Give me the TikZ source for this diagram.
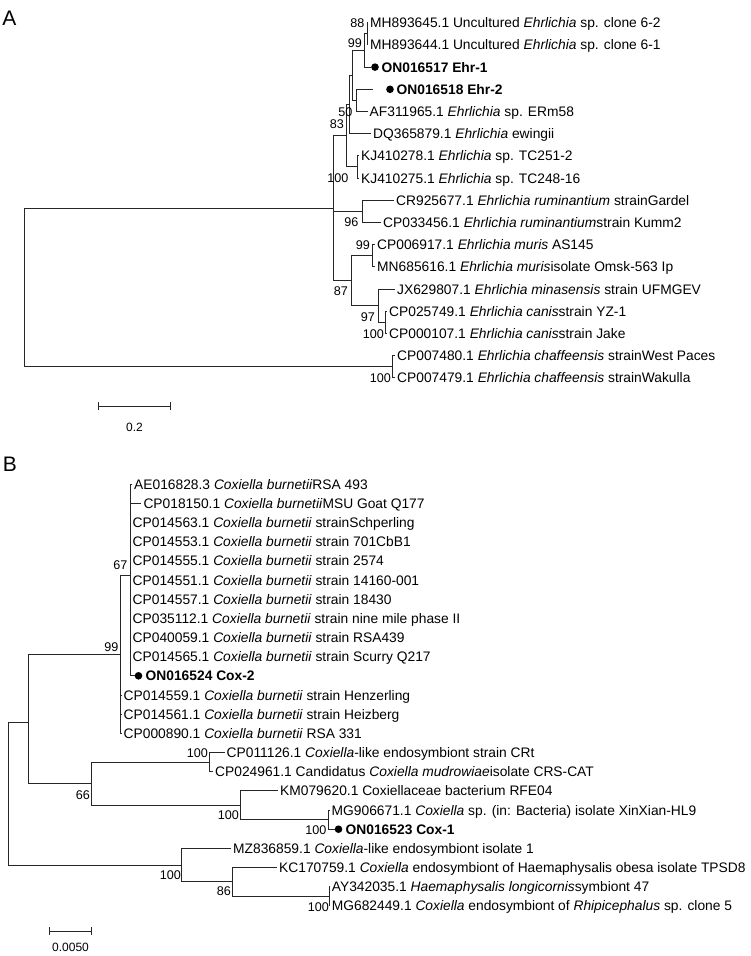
\documentclass[tikz,border=0pt]{standalone}
\usepackage{fontspec}
\setmainfont{Liberation Sans}
\begin{document}
\begin{tikzpicture}[x=1pt,y=-1pt,
  br/.style={line width=1pt, draw=black!85},
  lf/.style={anchor=west, inner xsep=2pt, inner ysep=0pt, text height=10pt, text depth=0pt, font=\fontsize{13.8}{16}\selectfont},
  lfb/.style={lf, font=\fontsize{13.8}{16}\selectfont\bfseries},
  bs/.style={anchor=east, inner sep=0pt, text height=9pt, text depth=0pt, font=\fontsize{12.6}{14}\selectfont},
  dotn/.style={circle, fill=black, inner sep=0pt, minimum size=7.6pt},
  plab/.style={inner sep=0pt, text height=15pt, text depth=0pt, font=\fontsize{21}{24}\selectfont},
  sclab/.style={inner sep=0pt, text height=8.6pt, text depth=0pt, font=\fontsize{12}{14}\selectfont}]
\useasboundingbox (0,0) rectangle (750,956);
\fill[white] (0,0) rectangle (750,956);

% ---------------- Panel A ----------------
\node[plab] (pA) at (9.5,18) {A};

\coordinate (rA) at (24,287.4);
\coordinate (nIn) at (333,208.2);
\coordinate (n83) at (346,135.7);
\coordinate (nB) at (349,104.6);
\coordinate (nA) at (352,75.4);
\coordinate (n99) at (364,50.45);
\coordinate (n88) at (367,33.8);
\coordinate (n50) at (356,100.4);
\coordinate (nKJ) at (357,166.9);
\coordinate (n96) at (362,211.3);
\coordinate (n87) at (351,280.7);
\coordinate (n99m) at (372.5,255.7);
\coordinate (n97) at (378,305.6);
\coordinate (ncan) at (385,322.3);
\coordinate (nCh) at (392,366.7);

\node[lf] (a1) at (368,22.7) {MH893645.1 Uncultured \textit{Ehrlichia} sp. clone 6-2};
\node[lf] (a2) at (368,44.9) {MH893644.1 Uncultured \textit{Ehrlichia} sp. clone 6-1};
\node[dotn] (a3d) at (375,67.1) {};
\node[lfb] (a3) at (379.5,67.1) {ON016517 Ehr-1};
\coordinate (a4e) at (372.7,89.3);
\node[dotn] (a4d) at (390,89.3) {};
\node[lfb] (a4) at (394.5,89.3) {ON016518 Ehr-2};
\node[lf] (a5) at (367.5,111.5) {AF311965.1 \textit{Ehrlichia} sp. ERm58};
\node[lf] (a6) at (371,133.7) {DQ365879.1 \textit{Ehrlichia} ewingii};
\node[lf] (a7) at (359,155.8) {KJ410278.1 \textit{Ehrlichia} sp. TC251-2};
\node[lf] (a8) at (359,178.0) {KJ410275.1 \textit{Ehrlichia} sp. TC248-16};
\node[lf] (a9) at (394,200.2) {CR925677.1 \textit{Ehrlichia ruminantium} strainGardel};
\node[lf] (a10) at (381,222.4) {CP033456.1 \textit{Ehrlichia ruminantium}strain Kumm2};
\node[lf] (a11) at (375,244.6) {CP006917.1 \textit{Ehrlichia muris} AS145};
\node[lf] (a12) at (375,266.8) {MN685616.1 \textit{Ehrlichia muris}isolate Omsk-563 Ip};
\node[lf] (a13) at (395,289.0) {JX629807.1 \textit{Ehrlichia minasensis} strain UFMGEV};
\node[lf] (a14) at (387,311.2) {CP025749.1 \textit{Ehrlichia canis}strain YZ-1};
\node[lf] (a15) at (387,333.4) {CP000107.1 \textit{Ehrlichia canis}strain Jake};
\node[lf] (a16) at (395,355.6) {CP007480.1 \textit{Ehrlichia chaffeensis} strainWest Paces};
\node[lf] (a17) at (395,377.7) {CP007479.1 \textit{Ehrlichia chaffeensis} strainWakulla};

\draw[br] (rA) |- (nIn);
\draw[br] (rA) |- (nCh);
\draw[br] (nIn) |- (n83);
\draw[br] (nIn) |- (n96);
\draw[br] (nIn) |- (n87);
\draw[br] (n83) |- (nB);
\draw[br] (n83) |- (nKJ);
\draw[br] (nB) |- (nA);
\draw[br] (nB) |- (a6.west);
\draw[br] (nA) |- (n99);
\draw[br] (nA) |- (n50);
\draw[br] (n99) |- (n88);
\draw[br] (n99) |- (a3d.west);
\draw[br] (n88) |- (a1.west);
\draw[br] (n88) |- (a2.west);
\draw[br] (n50) |- (a4e);
\draw[br] (n50) |- (a5.west);
\draw[br] (nKJ) |- (a7.west);
\draw[br] (nKJ) |- (a8.west);
\draw[br] (n96) |- (a9.west);
\draw[br] (n96) |- (a10.west);
\draw[br] (n87) |- (n99m);
\draw[br] (n87) |- (n97);
\draw[br] (n99m) |- (a11.west);
\draw[br] (n99m) |- (a12.west);
\draw[br] (n97) |- (a13.west);
\draw[br] (n97) |- (ncan);
\draw[br] (ncan) |- (a14.west);
\draw[br] (ncan) |- (a15.west);
\draw[br] (nCh) |- (a16.west);
\draw[br] (nCh) |- (a17.west);

\node[bs] (ba1) at (364.5,22.7) {88};
\node[bs] (ba2) at (362,43) {99};
\node[bs] (ba3) at (352.5,111.5) {50};
\node[bs] (ba4) at (344,124) {83};
\node[bs] (ba5) at (348.5,178) {100};
\node[bs] (ba6) at (358.5,222) {96};
\node[bs] (ba7) at (370,245) {99};
\node[bs] (ba8) at (348,291) {87};
\node[bs] (ba9) at (375,317) {97};
\node[bs] (ba10) at (384,333.5) {100};
\node[bs] (ba11) at (391,378) {100};

\coordinate (sa1) at (98.5,406);
\coordinate (sa2) at (170.5,406);
\draw[br] (sa1) -- (sa2);
\draw[br] (sa1) ++(0,-4) -- ++(0,8);
\draw[br] (sa2) ++(0,-4) -- ++(0,8);
\node[sclab] (sal) at (134.5,427) {0.2};

% ---------------- Panel B ----------------
\node[plab] (pB) at (10,464) {B};

\coordinate (rB) at (8.3,793.6);
\coordinate (nX) at (28.3,722);
\coordinate (n99b) at (120,654.5);
\coordinate (n67) at (130.5,575);
\coordinate (n66) at (91.5,783.7);
\coordinate (n100a) at (209.5,762.1);
\coordinate (n100k) at (240,805.2);
\coordinate (n100d) at (328.5,819.6);
\coordinate (n100b) at (181.7,865.2);
\coordinate (n86) at (232,881.9);
\coordinate (n100c) at (329,896.3);

\node[lf] (b1) at (132,484.1) {AE016828.3 \textit{Coxiella burnetii}RSA 493};
\node[lf] (b2) at (141.3,503.3) {CP018150.1 \textit{Coxiella burnetii}MSU Goat Q177};
\node[lf] (b3) at (130.5,522.4) {CP014563.1 \textit{Coxiella burnetii} strainSchperling};
\node[lf] (b4) at (130.5,541.6) {CP014553.1 \textit{Coxiella burnetii} strain 701CbB1};
\node[lf] (b5) at (130.5,560.8) {CP014555.1 \textit{Coxiella burnetii} strain 2574};
\node[lf] (b6) at (130.5,580.0) {CP014551.1 \textit{Coxiella burnetii} strain 14160-001};
\node[lf] (b7) at (130.5,599.1) {CP014557.1 \textit{Coxiella burnetii} strain 18430};
\node[lf] (b8) at (130.5,618.3) {CP035112.1 \textit{Coxiella burnetii} strain nine mile phase II};
\node[lf] (b9) at (130.5,637.5) {CP040059.1 \textit{Coxiella burnetii} strain RSA439};
\node[lf] (b10) at (130.5,656.6) {CP014565.1 \textit{Coxiella burnetii} strain Scurry Q217};
\node[dotn] (b11d) at (138.5,675.8) {};
\node[lfb] (b11) at (143.5,675.8) {ON016524 Cox-2};
\node[lf] (b12) at (121.5,695.0) {CP014559.1 \textit{Coxiella burnetii} strain Henzerling};
\node[lf] (b13) at (121.5,714.2) {CP014561.1 \textit{Coxiella burnetii} strain Heizberg};
\node[lf] (b14) at (121.5,733.3) {CP000890.1 \textit{Coxiella burnetii} RSA 331};
\node[lf] (b15) at (224.5,752.5) {CP011126.1 \textit{Coxiella}-like endosymbiont strain CRt};
\node[lf] (b16) at (213,771.7) {CP024961.1 Candidatus \textit{Coxiella mudrowiae}isolate CRS-CAT};
\node[lf] (b17) at (278,790.8) {KM079620.1 Coxiellaceae bacterium RFE04};
\node[lf] (b18) at (329.5,810.0) {MG906671.1 \textit{Coxiella} sp. (in: Bacteria) isolate XinXian-HL9};
\node[dotn] (b19d) at (338.5,829.2) {};
\node[lfb] (b19) at (343.5,829.2) {ON016523 Cox-1};
\node[lf] (b20) at (231,848.4) {MZ836859.1 \textit{Coxiella}-like endosymbiont isolate 1};
\node[lf] (b21) at (277,867.5) {KC170759.1 \textit{Coxiella} endosymbiont of Haemaphysalis obesa isolate TPSD8};
\node[lf] (b22) at (329.7,886.7) {AY342035.1 \textit{Haemaphysalis longicornis}symbiont 47};
\node[lf] (b23) at (329.7,905.9) {MG682449.1 \textit{Coxiella} endosymbiont of \textit{Rhipicephalus} sp. clone 5};

\draw[br] (rB) |- (nX);
\draw[br] (rB) |- (n100b);
\draw[br] (nX) |- (n99b);
\draw[br] (nX) |- (n66);
\draw[br] (n99b) |- (n67);
\foreach \k in {12,13,14} \draw[br] (n99b) |- (b\k.west);
\foreach \k in {1,...,10} \draw[br] (n67) |- (b\k.west);
\draw[br] (n67) |- (b11d.west);
\draw[br] (n66) |- (n100a);
\draw[br] (n66) |- (n100k);
\draw[br] (n100a) |- (b15.west);
\draw[br] (n100a) |- (b16.west);
\draw[br] (n100k) |- (b17.west);
\draw[br] (n100k) |- (n100d);
\draw[br] (n100d) |- (b18.west);
\draw[br] (n100d) |- (b19d.west);
\draw[br] (n100b) |- (b20.west);
\draw[br] (n100b) |- (n86);
\draw[br] (n86) |- (b21.west);
\draw[br] (n86) |- (n100c);
\draw[br] (n100c) |- (b22.west);
\draw[br] (n100c) |- (b23.west);

\node[bs] (bb1) at (127.5,565) {67};
\node[bs] (bb2) at (118.5,647) {99};
\node[bs] (bb3) at (208,753) {100};
\node[bs] (bb4) at (90,795) {66};
\node[bs] (bb5) at (239,815) {100};
\node[bs] (bb6) at (326.5,830) {100};
\node[bs] (bb7) at (181,875) {100};
\node[bs] (bb8) at (231,891) {86};
\node[bs] (bb9) at (329,907) {100};

\coordinate (sb1) at (49.5,931);
\coordinate (sb2) at (91.3,931);
\draw[br] (sb1) -- (sb2);
\draw[br] (sb1) ++(0,-4) -- ++(0,8);
\draw[br] (sb2) ++(0,-4) -- ++(0,8);
\node[sclab] (sbl) at (70.5,947) {0.0050};
\end{tikzpicture}
\end{document}
